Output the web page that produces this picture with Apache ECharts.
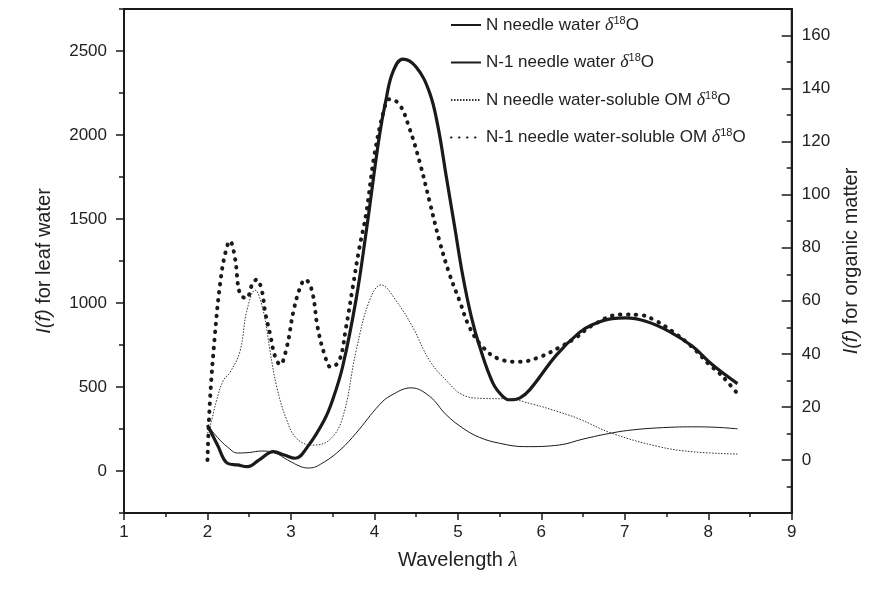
<!DOCTYPE html>
<html>
<head>
<meta charset="utf-8">
<script src="https://cdn.jsdelivr.net/npm/echarts@6/dist/echarts.min.js"></script>
<style>
  html, body { margin: 0; padding: 0; background: #fff; }
  #main { width: 869px; height: 593px; }
</style>
</head>
<body>
<div id="main"></div>
<script>
// N needle water (left axis)
var nWaterX = [2.0, 2.12, 2.24, 2.36, 2.5, 2.65, 2.81, 2.96, 3.13, 3.22, 3.4, 3.6, 3.78, 4.06, 4.2, 4.44, 4.66, 4.86, 5.06, 5.26, 5.5, 5.8, 6.22, 6.5, 6.85, 7.1, 7.41, 7.81, 8.1, 8.35];
var nWaterY = [274, 200, 143, 107, 110, 119, 107, 66, 24, 18, 54, 130, 225, 394, 450, 495, 445, 335, 255, 200, 165, 145, 155, 190, 227, 245, 257, 263, 260, 251];
// N-1 needle water (left axis)
var n1WaterX = [2.0, 2.12, 2.24, 2.36, 2.48, 2.62, 2.79, 2.92, 3.05, 3.2, 3.4, 3.5, 3.62, 3.78, 3.9, 4.06, 4.14, 4.22, 4.34, 4.5, 4.66, 4.76, 4.86, 4.96, 5.06, 5.16, 5.26, 5.42, 5.54, 5.62, 5.74, 5.86, 6.18, 6.45, 6.61, 6.85, 7.01, 7.25, 7.53, 7.81, 8.05, 8.35];
var n1WaterY = [274, 155, 46, 36, 26, 66, 115, 95, 76, 145, 304, 424, 622, 1020, 1418, 1995, 2213, 2373, 2452, 2405, 2254, 2054, 1756, 1458, 1159, 921, 742, 523, 443, 424, 434, 483, 690, 822, 871, 907, 911, 891, 831, 742, 632, 520];
// N needle water-soluble OM (right axis)
var nOmX = [2.0, 2.03, 2.11, 2.19, 2.27, 2.39, 2.47, 2.57, 2.67, 2.75, 2.83, 2.95, 3.07, 3.26, 3.46, 3.62, 3.78, 3.94, 4.08, 4.26, 4.46, 4.66, 4.86, 5.06, 5.3, 5.6, 5.9, 6.22, 6.45, 6.85, 7.41, 7.81, 8.35];
var nOmY = [10, 12.5, 22.5, 30, 33, 41, 56, 64, 56, 41, 27.5, 15, 8, 5.6, 7.5, 16, 41, 60, 66, 60, 50, 37.5, 30, 24.5, 23.2, 23, 21, 18, 15.5, 10, 5, 3.1, 2.2];
// N-1 needle water-soluble OM (right axis)
var n1OmX = [2.0, 2.03, 2.09, 2.15, 2.21, 2.27, 2.33, 2.39, 2.47, 2.53, 2.59, 2.65, 2.69, 2.75, 2.81, 2.87, 2.95, 3.03, 3.11, 3.17, 3.25, 3.32, 3.4, 3.48, 3.58, 3.66, 3.74, 3.82, 3.9, 4.0, 4.12, 4.18, 4.3, 4.42, 4.54, 4.66, 4.78, 4.9, 5.02, 5.14, 5.3, 5.5, 5.74, 5.98, 6.22, 6.41, 6.61, 6.95, 7.17, 7.37, 7.59, 7.81, 8.01, 8.13, 8.23, 8.35];
var n1OmY = [0, 22.5, 47.5, 66, 77.5, 82.5, 76, 62.5, 61, 65.7, 68, 64, 56, 47.5, 39, 36, 42.5, 56, 65, 68, 64, 50, 40, 35, 37.5, 50, 65, 80, 92.6, 115, 132.6, 136, 134, 125, 112.6, 97.6, 82.5, 70, 60, 50, 42.5, 38, 37, 38.8, 42.5, 46, 50.7, 54.8, 54.7, 52.5, 48, 42.5, 36, 32.8, 29.4, 25];

var seriesNames = ['N needle water δ18O', 'N-1 needle water δ18O', 'N needle water-soluble OM δ18O', 'N-1 needle water-soluble OM δ18O'];
var leftMajor = [0, 500, 1000, 1500, 2000, 2500];
var leftMinor = [-250, 250, 750, 1250, 1750, 2250, 2750];
var rightMajor = [0, 20, 40, 60, 80, 100, 120, 140, 160];
var rightMinor = [-10, 10, 30, 50, 70, 90, 110, 130, 150];

function pairs(xs, ys) {
    var out = [];
    for (var i = 0; i < xs.length; i++) {
        out.push([xs[i], ys[i]]);
    }
    return out;
}

var ink = '#1a1a1a';
var font = 'Liberation Sans, Arial, sans-serif';

var chart = echarts.init(document.getElementById('main'));
var option = {
    backgroundColor: '#fff',
    animation: false,
    grid: {
        left: 124, right: 76, top: 9, bottom: 80,
        show: true, borderColor: ink, borderWidth: 2
    },
    legend: {
        left: 445, top: 10,
        orient: 'vertical',
        itemWidth: 30, itemHeight: 14, itemGap: 17.5,
        icon: 'inherit',
        itemStyle: { opacity: 0 },
        data: seriesNames,
        formatter: function (name) {
            return name.replace('δ18O', '{d|δ}{s|18}O');
        },
        textStyle: {
            fontFamily: font, fontSize: 17, color: '#222', lineHeight: 20,
            rich: {
                d: { fontFamily: 'Liberation Serif, serif', fontStyle: 'italic', fontSize: 18, lineHeight: 20, color: '#222' },
                s: { fontFamily: font, fontSize: 11, lineHeight: 11, verticalAlign: 'top', color: '#222' }
            }
        }
    },
    xAxis: [{
        type: 'value', min: 1, max: 9, interval: 1,
        name: 'Wavelength {l|λ}', nameLocation: 'middle', nameGap: 37,
        nameTextStyle: {
            fontFamily: font, fontSize: 20, color: '#222',
            rich: { l: { fontFamily: 'Liberation Serif, serif', fontStyle: 'italic', fontSize: 21, color: '#222' } }
        },
        axisLine: { onZero: false, lineStyle: { color: ink, width: 2 } },
        axisTick: { inside: false, length: 7, lineStyle: { color: ink, width: 1.5 } },
        minorTick: { show: true, splitNumber: 2, length: 4, lineStyle: { color: ink, width: 1.5 } },
        axisLabel: { fontFamily: font, fontSize: 17, color: '#222', margin: 11 },
        splitLine: { show: false }
    }],
    yAxis: [{
        type: 'value', min: -250, max: 2750, position: 'left',
        name: '{i|I(f)} for leaf water', nameLocation: 'middle', nameRotate: 90, nameGap: 70,
        nameTextStyle: {
            fontFamily: font, fontSize: 20, color: '#222',
            rich: { i: { fontFamily: font, fontStyle: 'italic', fontSize: 20, color: '#222' } }
        },
        axisLine: { show: true, onZero: false, lineStyle: { color: ink, width: 2 } },
        axisTick: { show: true, customValues: leftMajor, length: 8, lineStyle: { color: ink, width: 1.5 } },
        axisLabel: {
            customValues: leftMajor, fontFamily: font, fontSize: 17, color: '#222', margin: 17,
            formatter: function (v) { return String(v); }
        },
        splitLine: { show: false }
    }, {
        type: 'value', min: -20, max: 170, position: 'right',
        name: '{i|I(f)} for organic matter', nameLocation: 'middle', nameRotate: 90, nameGap: 40,
        nameTextStyle: {
            fontFamily: font, fontSize: 20, color: '#222',
            rich: { i: { fontFamily: font, fontStyle: 'italic', fontSize: 20, color: '#222' } }
        },
        axisLine: { show: true, onZero: false, lineStyle: { color: ink, width: 2 } },
        axisTick: { show: true, inside: true, customValues: rightMajor, length: 10, lineStyle: { color: ink, width: 1.5 } },
        axisLabel: {
            customValues: rightMajor, fontFamily: font, fontSize: 17, color: '#222', margin: 10,
            formatter: function (v) { return String(v); }
        },
        splitLine: { show: false }
    }, {
        // minor ticks, left
        type: 'value', min: -250, max: 2750, position: 'left',
        axisLine: { show: false, onZero: false },
        axisTick: { show: true, customValues: leftMinor, length: 5, lineStyle: { color: ink, width: 1.5 } },
        axisLabel: { show: false },
        splitLine: { show: false }
    }, {
        // minor ticks, right
        type: 'value', min: -20, max: 170, position: 'right',
        axisLine: { show: false, onZero: false },
        axisTick: { show: true, inside: true, customValues: rightMinor, length: 5, lineStyle: { color: ink, width: 1.5 } },
        axisLabel: { show: false },
        splitLine: { show: false }
    }],
    series: [{
        name: seriesNames[0], type: 'line', yAxisIndex: 0,
        data: pairs(nWaterX, nWaterY), smooth: 0.4, symbol: 'none',
        lineStyle: { color: ink, width: 1 }, itemStyle: { color: ink }
    }, {
        name: seriesNames[1], type: 'line', yAxisIndex: 0,
        data: pairs(n1WaterX, n1WaterY), smooth: 0.4, symbol: 'none',
        lineStyle: { color: ink, width: 3.2 }, itemStyle: { color: ink }
    }, {
        name: seriesNames[2], type: 'line', yAxisIndex: 1,
        data: pairs(nOmX, nOmY), smooth: 0.4, symbol: 'none',
        lineStyle: { color: '#333', width: 1, type: [1.5, 1.5] }, itemStyle: { color: '#333' }
    }, {
        name: seriesNames[3], type: 'line', yAxisIndex: 1,
        data: pairs(n1OmX, n1OmY), smooth: 0.4, symbol: 'none',
        lineStyle: { color: ink, width: 4, type: [0.5, 7.5], cap: 'round' }, itemStyle: { color: ink }
    }]
};
chart.setOption(option);
</script>
</body>
</html>
